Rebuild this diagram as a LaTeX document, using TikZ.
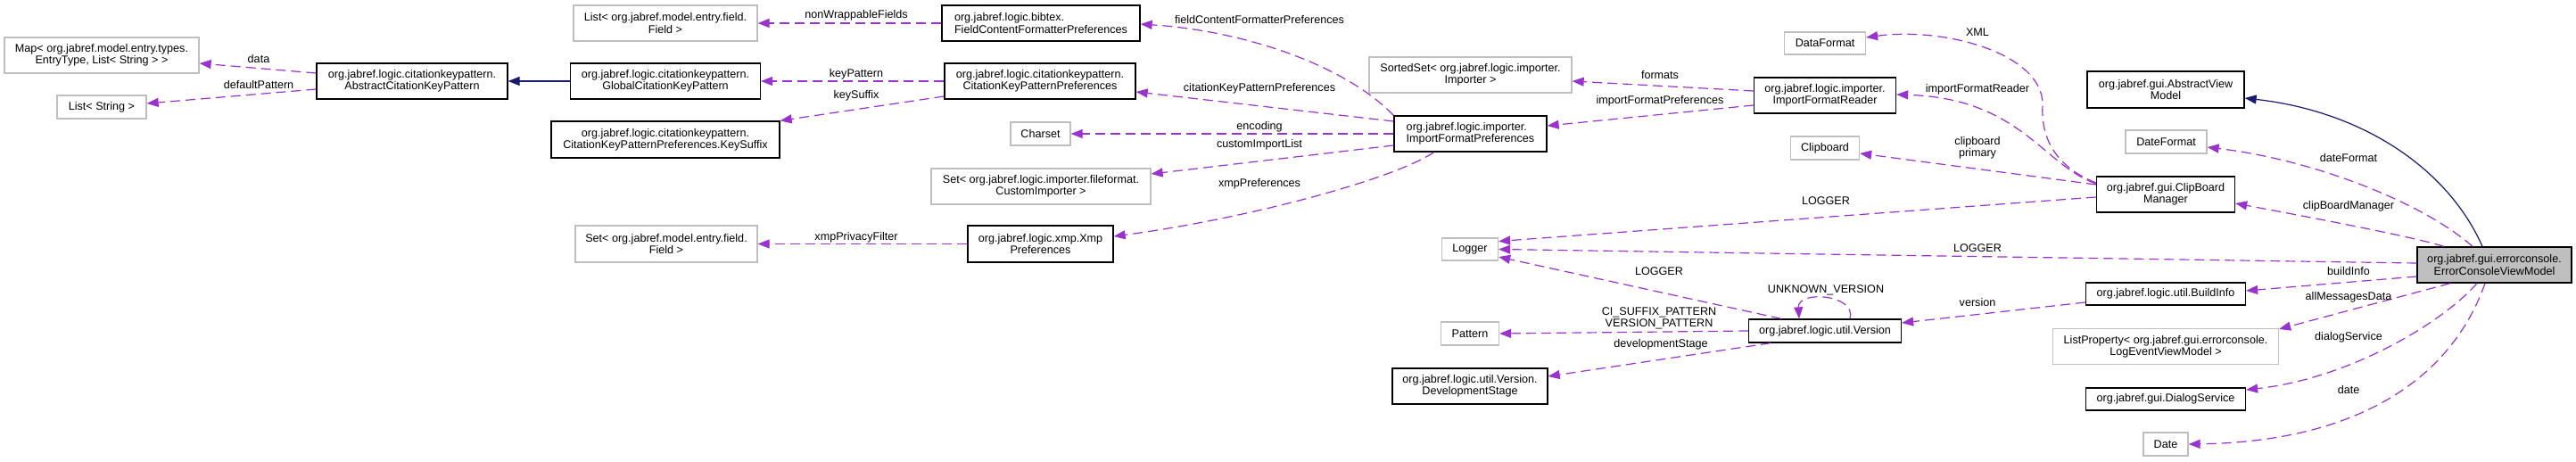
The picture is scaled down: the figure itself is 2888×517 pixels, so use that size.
\documentclass[tikz,border=0pt]{standalone}
\usepackage{fontspec}
\setmainfont{Liberation Sans}
\usetikzlibrary{arrows.meta}
\definecolor{dep}{HTML}{9A32CD}
\definecolor{inhc}{HTML}{191970}
\definecolor{lgray}{HTML}{BFBFBF}
\begin{document}
\begin{tikzpicture}[x=1pt,y=-1pt,
  every node/.style={font=\fontsize{12.6}{13.3}\selectfont, inner sep=0pt},
  cls/.style={draw=black, line width=1.3pt, fill=white, align=center},
  ext/.style={draw=lgray, line width=1.3pt, fill=white, align=center},
  depline/.style={draw=dep, line width=1.2pt, dash pattern=on 11pt off 6pt, -{Triangle[length=13pt,width=10pt]}},
  inhline/.style={draw=inhc, line width=1.2pt, -{Triangle[length=13pt,width=10pt]}},
  lbl/.style={align=center, text=black}]
\useasboundingbox (0,0) rectangle (2888,517);
% nodes
\node[ext, minimum width=218pt, minimum height=40pt] (map) at (114,62) {Map< org.jabref.model.entry.types.\\EntryType, List< String > >};
\node[ext, minimum width=100pt, minimum height=26pt] (liststr) at (114,120) {List< String >};
\node[cls, minimum width=214pt, minimum height=40pt] (abstractckp) at (462,91) {org.jabref.logic.citationkeypattern.\\AbstractCitationKeyPattern};
\node[cls, minimum width=213pt, minimum height=40pt] (globalckp) at (746,91) {org.jabref.logic.citationkeypattern.\\GlobalCitationKeyPattern};
\node[cls, minimum width=256pt, minimum height=41pt] (keysuffix) at (746,156.5) {org.jabref.logic.citationkeypattern.\\CitationKeyPatternPreferences.KeySuffix};
\node[ext, minimum width=206pt, minimum height=40pt] (listfield) at (746,26) {List< org.jabref.model.entry.field.\\Field >};
\node[ext, minimum width=204pt, minimum height=41pt] (setfield) at (747,273.5) {Set< org.jabref.model.entry.field.\\Field >};
\node[cls, align=left, minimum width=222pt, minimum height=40pt] (fcfp) at (1167,26) {org.jabref.logic.bibtex.\\FieldContentFormatterPreferences};
\node[cls, minimum width=214pt, minimum height=40pt] (cpp) at (1166,91) {org.jabref.logic.citationkeypattern.\\CitationKeyPatternPreferences};
\node[ext, minimum width=67pt, minimum height=26pt] (charset) at (1166.5,150) {Charset};
\node[ext, minimum width=246pt, minimum height=40pt] (setci) at (1167,209) {Set< org.jabref.logic.importer.fileformat.\\CustomImporter >};
\node[cls, minimum width=163pt, minimum height=41pt] (xmp) at (1166.5,273.5) {org.jabref.logic.xmp.Xmp\\Preferences};
\node[cls, align=left, minimum width=171pt, minimum height=40pt] (ifp) at (1648.5,150) {org.jabref.logic.importer.\\ImportFormatPreferences};
\node[ext, minimum width=227pt, minimum height=40pt] (sortedset) at (1648.5,84) {SortedSet< org.jabref.logic.importer.\\Importer >};
\node[ext, minimum width=63pt, minimum height=25pt] (logger) at (1648,279.5) {Logger};
\node[ext, minimum width=65pt, minimum height=26pt] (pattern) at (1648,374) {Pattern};
\node[cls, minimum width=174pt, minimum height=40pt] (devstage) at (1648,433) {org.jabref.logic.util.Version.\\DevelopmentStage};
\node[cls, minimum width=171pt, minimum height=26pt] (version) at (2046,371) {org.jabref.logic.util.Version};
\node[ext, minimum width=91pt, minimum height=25pt] (dataformat) at (2046,48.5) {DataFormat};
\node[cls, minimum width=159pt, minimum height=40pt] (ifr) at (2046,107) {org.jabref.logic.importer.\\ImportFormatReader};
\node[ext, minimum width=77pt, minimum height=26pt] (clipboard) at (2046,166) {Clipboard};
\node[cls, minimum width=155pt, minimum height=40pt] (cbm) at (2428,218) {org.jabref.gui.ClipBoard\\Manager};
\node[cls, minimum width=176pt, minimum height=41pt] (avm) at (2428,100.5) {org.jabref.gui.AbstractView\\Model};
\node[ext, minimum width=91pt, minimum height=26pt] (dateformat) at (2428.5,159) {DateFormat};
\node[cls, fill=lgray, minimum width=173pt, minimum height=40pt] (ecvm) at (2796.5,297) {org.jabref.gui.errorconsole.\\ErrorConsoleViewModel};
\node[cls, minimum width=179pt, minimum height=25pt] (buildinfo) at (2428,329.5) {org.jabref.logic.util.BuildInfo};
\node[ext, minimum width=253pt, minimum height=40pt] (listprop) at (2428,388.5) {ListProperty< org.jabref.gui.errorconsole.\\LogEventViewModel >};
\node[cls, minimum width=179pt, minimum height=25pt] (dialog) at (2428,447.5) {org.jabref.gui.DialogService};
\node[ext, minimum width=50pt, minimum height=26pt] (date) at (2428,498) {Date};
% connectors
\draw[depline] ([yshift=9pt]abstractckp.west) -- ([yshift=-9pt]map.east);
\draw[depline] ([yshift=-9pt]abstractckp.west) -- ([yshift=4pt]liststr.east);
\draw[inhline] (globalckp.west) -- (abstractckp.east);
\draw[depline] (cpp.west) -- (globalckp.east);
\draw[depline] ([yshift=-17pt]cpp.west) -- (keysuffix.north east);
\draw[depline] (fcfp.west) -- (listfield.east);
\draw[depline] (xmp.west) -- (setfield.east);
\draw[depline] (ifp.north west) .. controls (1510,75) and (1400,35) .. ([yshift=-1pt]fcfp.east);
\draw[depline] ([yshift=14pt]ifp.west) -- ([yshift=-12pt]cpp.east);
\draw[depline] (ifp.west) -- (charset.east);
\draw[depline] ([yshift=-13pt]ifp.west) -- ([yshift=14pt]setci.east);
\draw[depline] ([xshift=-41pt]ifp.south) .. controls (1565,200) and (1400,245) .. ([yshift=8.5pt]xmp.east);
\draw[depline] ([yshift=5pt]ifr.west) -- ([yshift=-7pt]sortedset.east);
\draw[depline] ([yshift=-11pt]ifr.west) -- ([yshift=9pt]ifp.east);
\draw[depline] ([yshift=13pt]cbm.west) .. controls (2300,185) and (2288,150) .. (2290,117) .. controls (2290,60) and (2180,30) .. ([yshift=6.5pt]dataformat.east);
\draw[depline] ([yshift=12pt]cbm.west) .. controls (2290,185) and (2265,110) .. ([yshift=1pt]ifr.east);
\draw[depline] ([yshift=11pt]cbm.west) -- ([yshift=-6pt]clipboard.east);
\draw[depline] ([yshift=-3pt]cbm.west) -- ([yshift=9pt]logger.east);
\draw[depline] ([yshift=2pt]ecvm.west) -- (logger.east);
\draw[depline] ([xshift=-49pt]version.north) -- ([yshift=-8.5pt]logger.east);
\draw[depline] ([xshift=28pt]version.north) .. controls (2082,330) and (2015,325) .. ([xshift=-29pt]version.north);
\draw[depline] (version.west) -- (pattern.east);
\draw[depline] ([xshift=-61pt]version.south) -- ([yshift=11pt]devstage.east);
\draw[depline] ([yshift=-9.5pt]buildinfo.west) -- ([yshift=9pt]version.east);
\draw[inhline] ([xshift=-13.5pt]ecvm.north) .. controls (2745,190) and (2650,125) .. ([yshift=-9.5pt]avm.east);
\draw[depline] ([xshift=-24.5pt]ecvm.north) .. controls (2720,230) and (2600,180) .. ([yshift=-6pt]dateformat.east);
\draw[depline] ([xshift=-56.5pt]ecvm.north) .. controls (2700,264) and (2570,240) .. ([yshift=-10pt]cbm.east);
\draw[depline] ([yshift=-13pt]ecvm.west) -- ([yshift=3.5pt]buildinfo.east);
\draw[depline] ([xshift=-49.5pt]ecvm.south) -- ([yshift=19.5pt]listprop.east);
\draw[depline] ([xshift=-19.5pt]ecvm.south) .. controls (2735,365) and (2630,425) .. ([yshift=10.5pt]dialog.east);
\draw[depline] ([xshift=-10.5pt]ecvm.south) .. controls (2750,420) and (2650,495) .. (date.east);
% labels
\node[lbl] (l1) at (290,66) {data};
\node[lbl] (l2) at (290,95) {defaultPattern};
\node[lbl] (l3) at (960,83) {keyPattern};
\node[lbl] (l4) at (960,107) {keySuffix};
\node[lbl] (l5) at (960,17) {nonWrappableFields};
\node[lbl] (l6) at (960,266) {xmpPrivacyFilter};
\node[lbl] (l7) at (1412,22) {fieldContentFormatterPreferences};
\node[lbl] (l8) at (1412,99) {citationKeyPatternPreferences};
\node[lbl] (l9) at (1412,142) {encoding};
\node[lbl] (l10) at (1412,162) {customImportList};
\node[lbl] (l11) at (1412,206) {xmpPreferences};
\node[lbl] (l12) at (1861,84) {formats};
\node[lbl] (l13) at (1861,113) {importFormatPreferences};
\node[lbl] (l14) at (2217,36) {XML};
\node[lbl] (l15) at (2217,100) {importFormatReader};
\node[lbl] (l16) at (2217,166) {clipboard\\primary};
\node[lbl] (l17) at (2047,225) {LOGGER};
\node[lbl] (l18) at (2217,278) {LOGGER};
\node[lbl] (l19) at (1860,304) {LOGGER};
\node[lbl] (l20) at (2047,325) {UNKNOWN\_VERSION};
\node[lbl] (l21) at (1860,356.5) {CI\_SUFFIX\_PATTERN\\VERSION\_PATTERN};
\node[lbl] (l22) at (1862,386) {developmentStage};
\node[lbl] (l23) at (2217,339) {version};
\node[lbl] (l24) at (2633,177) {dateFormat};
\node[lbl] (l25) at (2633,231) {clipBoardManager};
\node[lbl] (l26) at (2633,304) {buildInfo};
\node[lbl] (l27) at (2633,333) {allMessagesData};
\node[lbl] (l28) at (2633,378) {dialogService};
\node[lbl] (l29) at (2633,437) {date};
\end{tikzpicture}
\end{document}
